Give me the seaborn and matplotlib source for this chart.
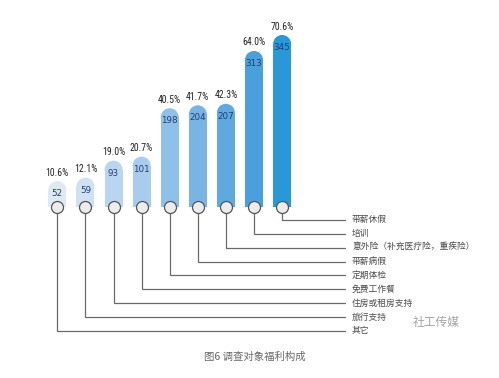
import numpy as np
import pandas as pd
import matplotlib
matplotlib.use("Agg")
import matplotlib.pyplot as plt
from matplotlib import font_manager
import seaborn as sns

# ---- data ----
categories = ["其它", "旅行支持", "住房或租房支持", "免费工作餐", "定期体检",
              "带薪病假", "意外险（补充医疗险，重疾险）", "培训", "带薪休假"]
counts = [52, 59, 93, 101, 198, 204, 207, 313, 345]
percents = ["10.6%", "12.1%", "19.0%", "20.7%", "40.5%", "41.7%", "42.3%", "64.0%", "70.6%"]
bar_colors = ["#dde9f5", "#cfe1f3", "#bad6ee", "#a8cdec", "#8ec0e8",
              "#78b5e3", "#5fa9df", "#4aa0dc", "#2a97d6"]
caption = "图6 调查对象福利构成"

sns.set_theme(style="white")
plt.rcParams['font.family'] = ['Noto Sans CJK SC', 'DejaVu Sans']

narrow_family = None
for fam in ["Liberation Sans Narrow", "Roboto Condensed", "Open Sans Condensed"]:
    try:
        font_manager.findfont(font_manager.FontProperties(family=fam),
                              fallback_to_default=False)
        narrow_family = fam
        break
    except Exception:
        pass

W, H, DPI = 499, 378, 100
fig = plt.figure(figsize=(W / DPI, H / DPI), dpi=DPI)
ax = fig.add_axes([0, 0, 1, 1])

x0_px, dx_px = 57.3, 28.1
base_px = 207.0
ppu = 0.4986

def py(p):
    return (base_px - p) / ppu

def px(p):
    return (p - x0_px) / dx_px

bar_w_px = 18.0
cap_r = (bar_w_px / 2) / ppu

df = pd.DataFrame({"cat": categories, "count": counts})
df["body"] = df["count"] - cap_r
sns.barplot(data=df, x="cat", y="body", hue="cat", palette=bar_colors,
            width=bar_w_px / dx_px, legend=False, ax=ax,
            linewidth=0, saturation=1, order=categories)
ax.set_xlim(-x0_px / dx_px, (W - x0_px) / dx_px)
ax.set_ylim(-(H - base_px) / ppu, base_px / ppu)
ax.set_axis_off()

cap_size_pt = bar_w_px * 72 / DPI
xs = np.arange(len(categories))
ax.scatter(xs, df["body"], s=cap_size_pt ** 2, c=bar_colors, marker="o",
           linewidths=0, zorder=3)

circ_d_pt = 12 * 72 / DPI
ax.scatter(xs, np.zeros(len(xs)), s=circ_d_pt ** 2, c="#ececec",
           edgecolors="#555555", linewidths=0.9, zorder=5)

line_end = px(345)
label_x = px(352)
for i, cat in enumerate(categories):
    ly_px = 331.0 - i * 13.9
    ly = py(ly_px)
    ax.plot([i, i, line_end], [py(base_px + 6), ly, ly], color="#6a6a6a",
            lw=0.9, zorder=4, solid_joinstyle="miter")
    ax.text(label_x, ly, cat, fontsize=6.3, color="#4a4a4a", va="center",
            ha="left", family=['Noto Sans CJK SC', 'DejaVu Sans'])

pct_family = [narrow_family, 'DejaVu Sans'] if narrow_family else ['DejaVu Sans']
pct_size = 7 if narrow_family else 6.0
for i, (c, p) in enumerate(zip(counts, percents)):
    ax.annotate(str(c), (i, c), xytext=(0, -9.0), textcoords="offset points",
                ha="center", va="center", fontsize=6.3, color="#1f3f73",
                family=['DejaVu Sans'])
    ax.annotate(p, (i, c), xytext=(0, 2.5), textcoords="offset points",
                ha="center", va="bottom", fontsize=pct_size, color="#222222",
                family=pct_family)

ax.text(px(255), py(357), caption, fontsize=7.5, color="#666666",
        ha="center", va="center", family=['Noto Sans CJK SC', 'DejaVu Sans'])

ax.text(px(436), py(322), "社工传媒", fontsize=8.5, color="#9a9a9a",
        ha="center", va="center", family=['Noto Sans CJK SC', 'DejaVu Sans'],
        alpha=0.9)

fig.savefig("out.png", dpi=DPI)
